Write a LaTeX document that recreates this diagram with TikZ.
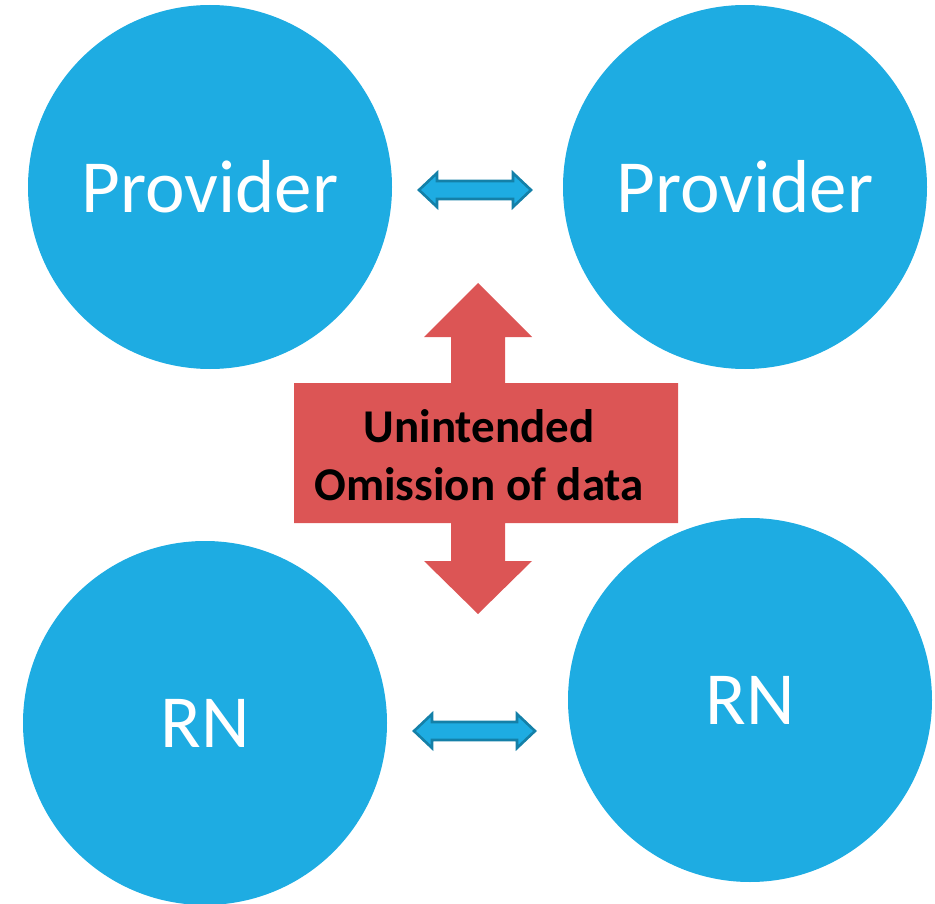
\documentclass[tikz,border=0pt]{standalone}
\usepackage{fontspec}
\setmainfont{Carlito}
\definecolor{partyblue}{RGB}{30,172,226}
\definecolor{linkedge}{RGB}{20,128,168}
\definecolor{omitred}{RGB}{220,85,85}

\begin{document}
\begin{tikzpicture}[x=1pt,y=-1pt,
  party/.style={circle, fill=partyblue, minimum size=364pt, inner sep=0pt,
    text=white, font=\fontsize{75}{75}\selectfont},
  link/.style={fill=partyblue, draw=linkedge, line width=2.6pt, line join=miter}]
\useasboundingbox (0,0) rectangle (935,904);

% the four parties
\node[party] (provleft)  at (210,187) {Provider};
\node[party] (provright) at (745,187) {Provider};
\node[party] (rnleft)    at (205,723) {RN};
\node[party] (rnright)   at (750,700) {RN};

% small two-way arrows: left tip x, right tip x, y
\def\twoway#1#2#3{%
  \draw[link] (#1,#3) -- (#1+18,#3-17) -- (#1+18,#3-9) -- (#2-18,#3-9)
    -- (#2-18,#3-17) -- (#2,#3) -- (#2-18,#3+17) -- (#2-18,#3+9)
    -- (#1+18,#3+9) -- (#1+18,#3+17) -- cycle;}
\twoway{419}{531}{190}
\twoway{414}{535}{731}

% red cross arrow
\fill[omitred] (478,283) -- (532,337) -- (505,337) -- (505,383) -- (678,383)
  -- (678,523) -- (505,523) -- (505,561) -- (532,561) -- (478,614)
  -- (424,561) -- (451,561) -- (451,523) -- (294,523) -- (294,383)
  -- (451,383) -- (451,337) -- (424,337) -- cycle;
\node[font=\bfseries\fontsize{47}{58}\selectfont, align=center] (omission)
  at (479,455) {Unintended\\Omission of data};

\end{tikzpicture}
\end{document}
